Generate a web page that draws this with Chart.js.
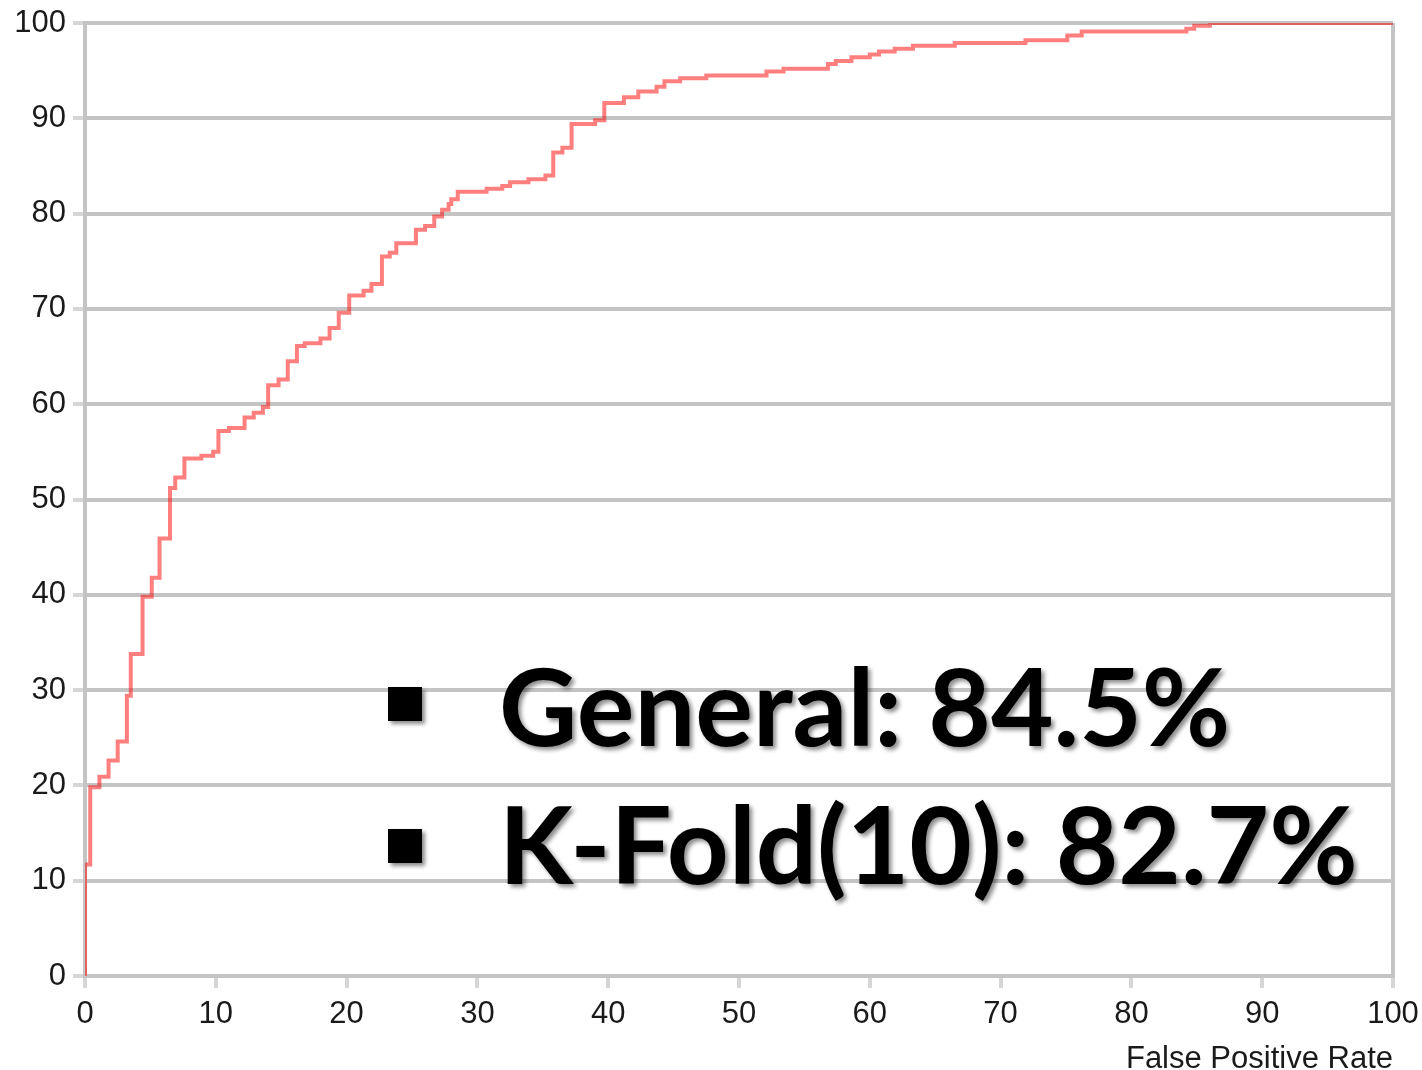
<!DOCTYPE html>
<html>
<head>
<meta charset="utf-8">
<title>ROC curve</title>
<script src="https://cdn.jsdelivr.net/npm/chart.js@4.4.1/dist/chart.umd.min.js"></script>
<style>
  html, body { margin: 0; padding: 0; background: #ffffff; }
  #wrap { width: 1422px; height: 1070px; }
</style>
</head>
<body>
<div id="wrap"><canvas id="roc" width="1422" height="1070"></canvas></div>
<script>
// ROC curve corners: at each false positive rate the true positive rate steps up to the listed value (%)
const falsePositiveRate = [
  0, 0, 0.4, 1.1, 1.8, 2.5, 3.2, 3.5, 4.4, 5.1, 5.7, 6.5, 6.9, 7.6, 8.9, 9.8,
  10.2, 11.0, 12.2, 12.9, 13.6, 14.0, 14.8, 15.5, 16.2, 16.8, 18.0, 18.7, 19.4,
  20.2, 21.3, 21.9, 22.7, 23.3, 23.8, 25.3, 26.0, 26.7, 27.3, 27.8, 28.0, 28.5,
  30.7, 31.9, 32.5, 33.9, 35.2, 35.8, 36.5, 37.2, 39.0, 39.7, 41.2, 42.3, 43.7,
  44.3, 45.5, 47.5, 52.1, 53.4, 56.8, 57.4, 58.6, 60.0, 60.7, 61.9, 63.3, 66.5,
  71.9, 75.1, 76.2, 84.2, 84.8, 86.0, 100
];
const truePositiveRate = [
  0, 11.7, 19.8, 20.9, 22.6, 24.6, 29.4, 33.8, 39.8, 41.8, 45.9, 51.2, 52.3, 54.3, 54.6, 55.0,
  57.2, 57.5, 58.6, 59.1, 59.7, 62.0, 62.6, 64.5, 66.1, 66.4, 66.9, 68.0, 69.6,
  71.4, 71.9, 72.6, 75.5, 75.9, 76.9, 78.3, 78.7, 79.7, 80.4, 81.0, 81.5, 82.3,
  82.6, 82.9, 83.3, 83.6, 84.0, 86.4, 86.9, 89.4, 89.8, 91.6, 92.2, 92.8, 93.3,
  93.9, 94.2, 94.5, 94.9, 95.2, 95.7, 96.0, 96.4, 96.7, 97.0, 97.3, 97.6, 97.9,
  98.2, 98.7, 99.1, 99.4, 99.7, 100, 100
];

// Tick values shared by both axes
const axisTicks = [0, 10, 20, 30, 40, 50, 60, 70, 80, 90, 100];

const xAxisTitle = 'False Positive Rate';
// Accuracy summary shown inside the plot
const summaryLines = ['General: 84.5%', 'K-Fold(10): 82.7%'];

const curvePoints = falsePositiveRate.map((x, i) => ({ x: x, y: truePositiveRate[i] }));

const GRID = '#c4c4c4';
const TICK = '#d6d6d6';
const tickFont = { family: '"Liberation Sans", Arial, sans-serif', size: 31 };

const summaryPlugin = {
  id: 'summaryText',
  afterDatasetsDraw(chart) {
    const ctx = chart.ctx;
    ctx.save();
    ctx.shadowColor = 'rgba(0,0,0,0.45)';
    ctx.shadowOffsetX = 3;
    ctx.shadowOffsetY = 3;
    ctx.shadowBlur = 4;
    ctx.fillStyle = '#000000';
    ctx.textAlign = 'left';
    ctx.textBaseline = 'alphabetic';
    ctx.font = 'bold 108px Lato, "Open Sans", sans-serif';
    const baselines = [746, 884];
    const bulletTops = [687, 829];
    summaryLines.forEach((line, i) => {
      ctx.fillRect(388, bulletTops[i], 34, 34);
      ctx.fillText(line, 499, baselines[i]);
    });
    ctx.restore();
  }
};

new Chart(document.getElementById('roc'), {
  type: 'line',
  data: {
    datasets: [{
      data: curvePoints,
      // horizontal run first, then the vertical jump at the next point
      stepped: 'before',
      borderColor: 'rgba(255,0,0,0.5)',
      borderWidth: 4,
      pointRadius: 0,
      fill: false
    }]
  },
  options: {
    responsive: false,
    animation: false,
    devicePixelRatio: 1,
    layout: { autoPadding: false, padding: { top: 23, right: 29, left: 0, bottom: 0 } },
    plugins: {
      legend: { display: false },
      tooltip: { enabled: false }
    },
    scales: {
      x: {
        type: 'linear',
        min: 0,
        max: 100,
        afterBuildTicks: (scale) => { scale.ticks = axisTicks.map(v => ({ value: v })); },
        afterFit: (scale) => {
          scale.height = 94;
          scale.paddingLeft = 0;
          scale.paddingRight = 0;
        },
        grid: {
          color: (c) => (c.tick && (c.tick.value === 0 || c.tick.value === 100)) ? GRID : 'rgba(0,0,0,0)',
          tickColor: TICK,
          lineWidth: 4,
          tickWidth: 4,
          tickLength: 12
        },
        border: { display: true, color: GRID, width: 4 },
        ticks: { font: tickFont, color: '#1a1a1a', padding: 8, maxRotation: 0 },
        title: {
          display: true,
          text: xAxisTitle,
          align: 'end',
          color: '#1a1a1a',
          font: { family: '"Liberation Sans", Arial, sans-serif', size: 31, lineHeight: 0.7 },
          padding: { top: 0, bottom: 0 }
        }
      },
      y: {
        type: 'linear',
        min: 0,
        max: 100,
        afterBuildTicks: (scale) => { scale.ticks = axisTicks.map(v => ({ value: v })); },
        afterFit: (scale) => {
          scale.width = 85;
          scale.paddingTop = 0;
          scale.paddingBottom = 0;
        },
        grid: {
          color: GRID,
          tickColor: TICK,
          lineWidth: 4,
          tickWidth: 4,
          tickLength: 12
        },
        border: { display: true, color: GRID, width: 4 },
        ticks: { font: tickFont, color: '#1a1a1a', padding: 7 }
      }
    }
  },
  plugins: [summaryPlugin]
});
</script>
</body>
</html>
